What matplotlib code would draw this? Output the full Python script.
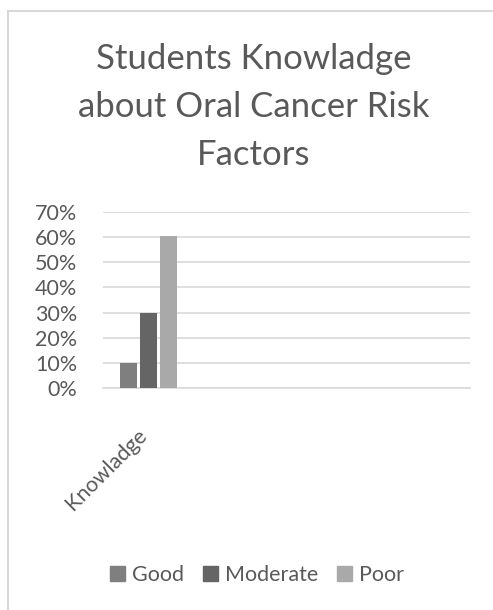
import numpy as np
import matplotlib
matplotlib.use("Agg")
import matplotlib.pyplot as plt
import matplotlib.transforms as mtransforms
from matplotlib.patches import Rectangle, Patch
from matplotlib.ticker import PercentFormatter

# data
categories = ["Knowladge", "", "", ""]
series = ["Good", "Moderate", "Poor"]
good = [0.10, np.nan, np.nan, np.nan]
moderate = [0.30, np.nan, np.nan, np.nan]
poor = [0.605, np.nan, np.nan, np.nan]
y_ticks = [0.0, 0.1, 0.2, 0.3, 0.4, 0.5, 0.6, 0.7]

colors = ["#7f7f7f", "#656565", "#a9a9a9"]
text_color = "#595959"
plt.rcParams["font.family"] = ["Lato", "DejaVu Sans"]

fig = plt.figure(figsize=(4.93, 6.10), dpi=100)
W, H = 493, 610

# outer chart border (right and bottom edges fall outside the image)
fig.patches.append(Rectangle((8 / W, -0.1), 1.2, (H - 11) / H + 0.1,
                             transform=fig.transFigure, fill=False,
                             edgecolor="#d9d9d9", linewidth=1.5))

ax = fig.add_axes([103 / W, (H - 387.7) / H, (470 - 103) / W, 175.4 / H])

x = np.arange(len(categories))
width = 0.185
step = 0.218
for i, (name, vals) in enumerate(zip(series, [good, moderate, poor])):
    ax.bar(x + (i - 1) * step, vals, width=width, color=colors[i], label=name, zorder=3)

ax.set_xlim(-0.5, len(categories) - 0.5)
ax.set_ylim(0, 0.7)
ax.set_yticks(y_ticks)
ax.yaxis.set_major_formatter(PercentFormatter(1.0, decimals=0))
ax.grid(axis="y", color="#d9d9d9", linewidth=1.2, zorder=0)
for s in ["top", "right", "left"]:
    ax.spines[s].set_visible(False)
ax.spines["bottom"].set_color("#d9d9d9")
ax.spines["bottom"].set_linewidth(1.2)
ax.tick_params(axis="both", length=0, colors=text_color, labelsize=15.5)
ax.tick_params(axis="y", pad=18.5)
ax.set_xticks(x)
ax.set_xticklabels(categories, rotation=45, ha="right", rotation_mode="anchor",
                   fontsize=15.5, color=text_color)
ax.tick_params(axis="x", pad=27)
shift = mtransforms.ScaledTranslation(-9 / 72, 0, fig.dpi_scale_trans)
for lbl in ax.get_xticklabels():
    lbl.set_transform(lbl.get_transform() + shift)

fig.text(254 / W, 1 - 43 / H, "Students Knowladge\nabout Oral Cancer Risk\nFactors",
         ha="center", va="top", fontsize=25, color=text_color, linespacing=1.62)

handles = [Patch(color=c, label=n) for c, n in zip(colors, series)]
fig.legend(handles=handles, loc="center", bbox_to_anchor=(257 / W, 1 - 575 / H),
           ncol=3, frameon=False, fontsize=15.5, labelcolor=text_color,
           handlelength=0.7, handleheight=0.7, handletextpad=0.35, columnspacing=0.85)

fig.savefig("out.png", dpi=100, facecolor="white")
